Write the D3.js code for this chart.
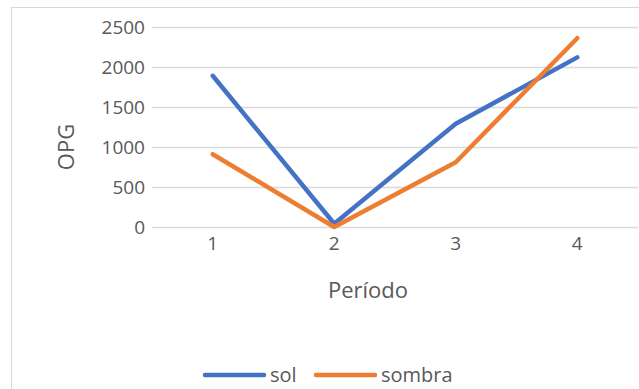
<!DOCTYPE html>
<html><head><meta charset="utf-8">
<script src="https://cdn.jsdelivr.net/npm/d3@7"></script>
<style>
html,body{margin:0;padding:0;background:#fff;}
svg{display:block;font-family:"Open Sans",sans-serif;}
</style></head>
<body>
<svg id="chart" width="639" height="389"></svg>
<script>
const categories = ["1", "2", "3", "4"];
const solValues = [1890, 40, 1290, 2120];
const sombraValues = [910, 0, 810, 2360];
const yTicks = [0, 500, 1000, 1500, 2000, 2500];
const seriesNames = ["sol", "sombra"];
const seriesColors = ["#4472C4", "#ED7D31"];
const xTitle = "Período";
const yTitle = "OPG";

const svg = d3.select("#chart");
const plot = {left: 152, right: 638, top: 27, bottom: 227};
const textColor = "#595959";

// frame
svg.append("rect").attr("x", 11.5).attr("y", 7.5).attr("width", 700).attr("height", 500)
  .attr("fill", "#fff").attr("stroke", "#d9d9d9").attr("stroke-width", 1);

const x = d3.scaleBand().domain(categories).range([plot.left, plot.right]).padding(0);
const y = d3.scaleLinear().domain([0, 2500]).range([plot.bottom, plot.top]);
const cx = c => x(c) + x.bandwidth() / 2;

// y axis with gridlines
const yAxis = svg.append("g").attr("transform", `translate(${plot.left},0)`)
  .call(d3.axisLeft(y).tickValues(yTicks).tickFormat(d3.format("d"))
    .tickSize(-(plot.right - plot.left)).tickPadding(7));
yAxis.select(".domain").remove();
yAxis.selectAll(".tick line").attr("stroke", "#d9d9d9").attr("stroke-width", 1.5);
yAxis.selectAll(".tick text").attr("fill", textColor).style("font-size", "19px")
  .style("font-family", "'Open Sans', sans-serif");

// x axis
const xAxis = svg.append("g").attr("transform", `translate(0,${plot.bottom})`)
  .call(d3.axisBottom(x).tickSize(0).tickPadding(10));
xAxis.select(".domain").remove();
xAxis.selectAll(".tick text").attr("fill", textColor).style("font-size", "19px")
  .style("font-family", "'Open Sans', sans-serif");

// titles
svg.append("text").attr("x", 368).attr("y", 298).attr("text-anchor", "middle")
  .attr("fill", textColor).style("font-size", "22px").text(xTitle);
svg.append("text").attr("transform", "translate(74,147) rotate(-90)").attr("text-anchor", "middle")
  .attr("fill", textColor).style("font-size", "22px").text(yTitle);

// lines
const data = [solValues, sombraValues];
const line = d3.line().x((d, i) => cx(categories[i])).y(d => y(d));
data.forEach((vals, k) => {
  svg.append("path").datum(vals).attr("d", line).attr("fill", "none")
    .attr("stroke", seriesColors[k]).attr("stroke-width", 4.5)
    .attr("stroke-linejoin", "round").attr("stroke-linecap", "round");
});

// legend
const legendItems = [{x1: 205, x2: 264, tx: 270}, {x1: 316, x2: 375, tx: 381}];
seriesNames.forEach((name, k) => {
  const it = legendItems[k];
  svg.append("line").attr("x1", it.x1).attr("x2", it.x2).attr("y1", 375).attr("y2", 375)
    .attr("stroke", seriesColors[k]).attr("stroke-width", 4.5).attr("stroke-linecap", "round");
  svg.append("text").attr("x", it.tx).attr("y", 382).attr("fill", textColor)
    .style("font-size", "20px").text(name);
});
</script>
</body></html>
